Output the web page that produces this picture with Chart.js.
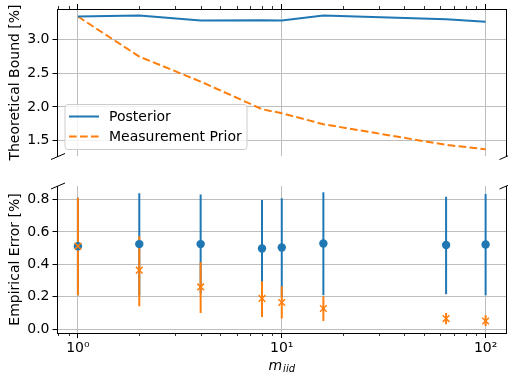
<!DOCTYPE html>
<html>
<head>
<meta charset="utf-8">
<script src="https://cdn.jsdelivr.net/npm/chart.js@4.4.1/dist/chart.umd.min.js"></script>
<style>
    html, body { margin: 0; padding: 0; background: #fff; }
    #wrap { position: relative; width: 508px; height: 377px; }
    #boundChart { position: absolute; left: 0; top: 0; }
    #errorChart { position: absolute; left: 0; top: 170px; }
</style>
</head>
<body>
<div id="wrap">
    <canvas id="boundChart" width="508" height="170"></canvas>
    <canvas id="errorChart" width="508" height="207"></canvas>
</div>
<script>
// values
const mIid = [1, 2, 4, 8, 10, 16, 64, 100];
const posteriorBound = [3.334, 3.349, 3.275, 3.28, 3.275, 3.349, 3.295, 3.256];
const priorBound = [3.334, 2.743, 2.374, 1.966, 1.907, 1.744, 1.439, 1.375];

const posteriorError = [0.512, 0.525, 0.525, 0.498, 0.504, 0.529, 0.519, 0.523];
const posteriorLow = [0.21, 0.21, 0.22, 0.20, 0.20, 0.21, 0.216, 0.21];
const posteriorHigh = [0.81, 0.838, 0.831, 0.796, 0.807, 0.844, 0.817, 0.833];
const priorError = [0.512, 0.364, 0.261, 0.19, 0.165, 0.128, 0.066, 0.051];
const priorLow = [0.21, 0.142, 0.10, 0.076, 0.066, 0.051, 0.031, 0.02];
const priorHigh = [0.81, 0.574, 0.415, 0.296, 0.265, 0.204, 0.10, 0.086];

const xTicks = [1, 10, 100];
const xTickLabels = ['10⁰', '10¹', '10²'];
const boundTicks = [1.5, 2.0, 2.5, 3.0];
const errorTicks = [0.0, 0.2, 0.4, 0.6, 0.8];

const blue = '#1f77b4';
const orange = '#ff7f0e';
const gridColor = '#bdbdbd';

Chart.defaults.font.family = "'DejaVu Sans', sans-serif";
Chart.defaults.font.size = 14;
Chart.defaults.color = '#000';

function points(ys) {
    return mIid.map((m, i) => ({ x: m, y: ys[i] }));
}

// right spine, short minor ticks on the log axis, axis-break marks
const framePlugin = {
    id: 'frame',
    afterDraw(chart, args, opts) {
        const ctx = chart.ctx;
        const a = chart.chartArea;
        const xs = chart.scales.x;
        ctx.save();
        ctx.strokeStyle = '#000';
        ctx.lineWidth = 1;
        ctx.beginPath();
        ctx.moveTo(a.right + 0.5, a.top);
        ctx.lineTo(a.right + 0.5, a.bottom);
        ctx.stroke();

        const edge = opts.ticksTop ? a.top : a.bottom;
        const dir = opts.ticksTop ? -1 : 1;
        ctx.lineWidth = 0.8;
        ctx.beginPath();
        for (let e = -1; e <= 2; e++) {
            for (let k = 2; k <= 9; k++) {
                const v = k * Math.pow(10, e);
                if (v < xs.min || v > xs.max) continue;
                const px = Math.round(xs.getPixelForValue(v)) + 0.5;
                ctx.moveTo(px, edge);
                ctx.lineTo(px, edge + dir * 3);
            }
        }
        ctx.stroke();

        const by = opts.breakTop ? a.top : a.bottom + 0.5;
        ctx.lineWidth = 1;
        ctx.beginPath();
        [a.left + 0.5, a.right + 0.5].forEach(bx => {
            ctx.moveTo(bx - 7, by + 3);
            ctx.lineTo(bx + 7, by - 3);
        });
        ctx.stroke();
        ctx.restore();
    }
};

const boxLegendPlugin = {
    id: 'boxLegend',
    afterDraw(chart) {
        const ctx = chart.ctx;
        const a = chart.chartArea;
        const x = a.left + 7.5, y = a.bottom - 51.5, w = 182, h = 45;
        ctx.save();
        ctx.beginPath();
        ctx.roundRect(x, y, w, h, 3);
        ctx.fillStyle = 'rgba(255,255,255,0.8)';
        ctx.fill();
        ctx.strokeStyle = '#cccccc';
        ctx.lineWidth = 1;
        ctx.stroke();
        ctx.font = "14px 'DejaVu Sans'";
        ctx.textBaseline = 'middle';
        chart.data.datasets.forEach((ds, i) => {
            const ly = y + 12 + i * 20;
            ctx.strokeStyle = ds.borderColor;
            ctx.lineWidth = ds.borderWidth;
            ctx.setLineDash(ds.borderDash || []);
            ctx.beginPath();
            ctx.moveTo(x + 4, ly);
            ctx.lineTo(x + 34, ly);
            ctx.stroke();
            ctx.setLineDash([]);
            ctx.fillStyle = '#000';
            ctx.fillText(ds.label, x + 44, ly + 1);
        });
        ctx.restore();
    }
};

const errorBarPlugin = {
    id: 'errorBars',
    beforeDatasetsDraw(chart) {
        const ctx = chart.ctx;
        const a = chart.chartArea;
        const xs = chart.scales.x, ys = chart.scales.y;
        ctx.save();
        ctx.beginPath();
        ctx.rect(a.left, a.top, a.width, a.height);
        ctx.clip();
        ctx.lineWidth = 2;
        chart.data.datasets.forEach(ds => {
            ctx.strokeStyle = ds.borderColor;
            ctx.beginPath();
            mIid.forEach((m, i) => {
                const px = xs.getPixelForValue(m);
                ctx.moveTo(px, ys.getPixelForValue(ds.errorLow[i]));
                ctx.lineTo(px, ys.getPixelForValue(ds.errorHigh[i]));
            });
            ctx.stroke();
        });
        ctx.restore();
    }
};

const xTitlePlugin = {
    id: 'xTitle',
    afterDraw(chart) {
        const ctx = chart.ctx;
        const a = chart.chartArea;
        ctx.save();
        ctx.fillStyle = '#000';
        ctx.textBaseline = 'alphabetic';
        ctx.font = "italic 14px 'DejaVu Sans'";
        const wm = ctx.measureText('m').width;
        ctx.font = "italic 10px 'DejaVu Sans'";
        const ws = ctx.measureText('iid').width;
        const x0 = (a.left + a.right) / 2 - (wm + ws + 1) / 2;
        ctx.font = "italic 14px 'DejaVu Sans'";
        ctx.fillText('m', x0, 200);
        ctx.font = "italic 10px 'DejaVu Sans'";
        ctx.fillText('iid', x0 + wm + 1, 202);
        ctx.restore();
    }
};

function logAxis(position, showLabels, height) {
    return {
        type: 'logarithmic',
        position: position,
        min: 0.794,
        max: 125.9,
        bounds: 'data',
        afterBuildTicks: scale => {
            scale.ticks = xTicks.map(v => ({ value: v }));
        },
        afterFit: scale => {
            scale.height = height;
            scale.paddingLeft = 0;
            scale.paddingRight = 0;
        },
        ticks: {
            display: showLabels,
            autoSkip: false,
            maxRotation: 0,
            padding: 2,
            callback: value => xTickLabels[xTicks.indexOf(value)]
        },
        grid: { color: gridColor, lineWidth: 1, tickColor: '#000', tickLength: 5, tickWidth: 1 },
        border: { display: true, color: '#000', width: 1 }
    };
}

function valueAxis(min, max, tickValues, title) {
    return {
        min: min,
        max: max,
        bounds: 'data',
        afterBuildTicks: scale => {
            scale.ticks = tickValues.map(v => ({ value: v }));
        },
        afterFit: scale => {
            scale.width = 57.5;
            scale.paddingTop = 0;
            scale.paddingBottom = 0;
        },
        ticks: {
            padding: 3,
            callback: value => value.toFixed(1)
        },
        grid: { color: gridColor, lineWidth: 1, tickColor: '#000', tickLength: 5, tickWidth: 1 },
        border: { display: true, color: '#000', width: 1 },
        title: { display: true, text: title, padding: { top: 7, bottom: 0 } }
    };
}

new Chart(document.getElementById('boundChart'), {
    type: 'line',
    data: {
        datasets: [{
            label: 'Posterior',
            data: points(posteriorBound),
            borderColor: blue,
            borderWidth: 2,
            pointRadius: 0,
            tension: 0,
            fill: false
        }, {
            label: 'Measurement Prior',
            data: points(priorBound),
            borderColor: orange,
            borderWidth: 2,
            borderDash: [7.7, 3.3],
            pointRadius: 0,
            tension: 0,
            fill: false
        }]
    },
    options: {
        responsive: false,
        animation: false,
        events: [],
        layout: { autoPadding: false, padding: { top: 4, right: 2, bottom: 14, left: 0 } },
        scales: {
            x: logAxis('top', false, 5),
            y: valueAxis(1.275, 3.445, boundTicks, 'Theoretical Bound [%]')
        },
        plugins: {
            legend: { display: false },
            tooltip: { enabled: false },
            frame: { ticksTop: true, breakTop: false }
        }
    },
    plugins: [framePlugin, boxLegendPlugin]
});

new Chart(document.getElementById('errorChart'), {
    type: 'scatter',
    data: {
        datasets: [{
            label: 'Posterior',
            data: points(posteriorError),
            errorLow: posteriorLow,
            errorHigh: posteriorHigh,
            borderColor: blue,
            backgroundColor: blue,
            pointStyle: 'circle',
            pointRadius: 4.2,
            borderWidth: 0,
            order: 1
        }, {
            label: 'Measurement Prior',
            data: points(priorError),
            errorLow: priorLow,
            errorHigh: priorHigh,
            borderColor: orange,
            backgroundColor: orange,
            pointStyle: 'crossRot',
            pointRadius: 4.7,
            borderWidth: 1.5,
            order: 0
        }]
    },
    options: {
        responsive: false,
        animation: false,
        events: [],
        layout: { autoPadding: false, padding: { top: 16, right: 2, bottom: 0, left: 0 } },
        scales: {
            x: logAxis('bottom', true, 44),
            y: valueAxis(-0.023, 0.883, errorTicks, 'Empirical Error [%]')
        },
        plugins: {
            legend: { display: false },
            tooltip: { enabled: false },
            frame: { ticksTop: false, breakTop: true }
        }
    },
    plugins: [framePlugin, errorBarPlugin, xTitlePlugin]
});
</script>
</body>
</html>
